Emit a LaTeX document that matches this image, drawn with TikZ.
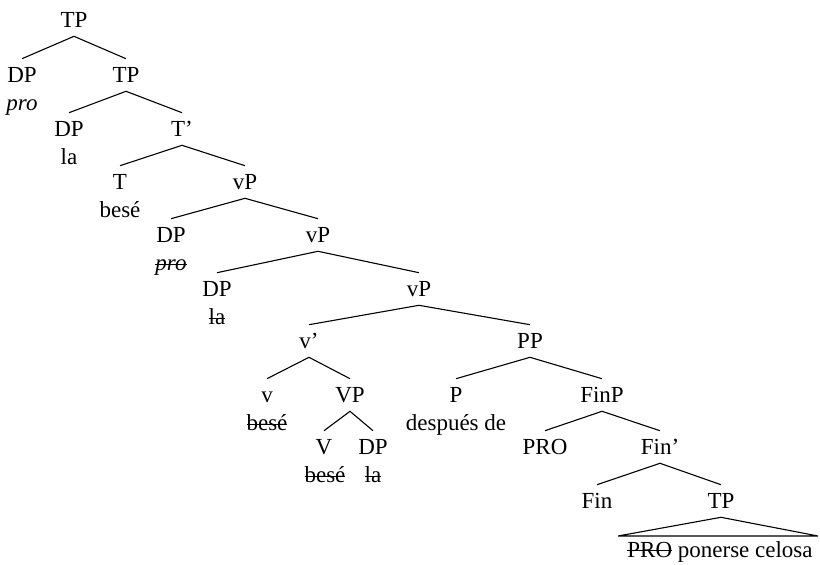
\documentclass[tikz,border=0pt]{standalone}
\usepackage{fontspec}
\setmainfont{Liberation Serif}
\newsavebox\strkbox
\newcommand{\mystrike}[1]{\sbox\strkbox{#1}\rlap{\usebox\strkbox}\rule[0.24em]{\wd\strkbox}{1pt}}
\begin{document}
\begin{tikzpicture}[x=1pt,y=-1pt,
  lbl/.style={font=\fontsize{23}{27}\selectfont, inner xsep=0pt, inner ysep=8.5pt, text height=15.2pt, text depth=0pt},
  wrd/.style={font=\fontsize{23}{27}\selectfont, inner sep=0pt, anchor=base},
  edge/.style={line width=1.1pt}]
\useasboundingbox (0,0) rectangle (820,565);
% labels
\node[lbl] (TP0) at (74,20) {TP};
\node[lbl] (DP1) at (22,75) {DP};
\node[lbl] (TP1) at (126,75) {TP};
\node[lbl] (DP2) at (69,129) {DP};
\node[lbl] (Tb2) at (182,129) {T’};
\node[lbl] (T3) at (120,182) {T};
\node[lbl] (vP3) at (245,182) {vP};
\node[lbl] (DP4) at (171,235) {DP};
\node[lbl] (vP4) at (318,235) {vP};
\node[lbl] (DP5) at (217,289) {DP};
\node[lbl] (vP5) at (419,289) {vP};
\node[lbl] (vb6) at (309,341) {v’};
\node[lbl] (PP6) at (530,341) {PP};
\node[lbl] (v7) at (267,395) {v};
\node[lbl] (VP7) at (350,395) {VP};
\node[lbl] (P7) at (456,395) {P};
\node[lbl] (FinP7) at (602,395) {FinP};
\node[lbl] (V8) at (324,447) {V};
\node[lbl] (DP8) at (373,447) {DP};
\node[lbl] (PRO8) at (545,447) {PRO};
\node[lbl] (Finb8) at (660,447) {Fin’};
\node[lbl] (Fin9) at (597,501) {Fin};
\node[lbl] (TP9) at (721,501) {TP};
% words
\node[wrd] (w1) at (22,110.6) {\itshape pro};
\node[wrd] (w2) at (69,164.6) {la};
\node[wrd] (w3) at (120,217.6) {besé};
\node[wrd] (w4) at (171,270.6) {\mystrike{\itshape pro}};
\node[wrd] (w5) at (217,324.6) {\mystrike{la}};
\node[wrd] (w7a) at (267,430.6) {\mystrike{besé}};
\node[wrd] (w7b) at (456,430.6) {después de};
\node[wrd] (w8a) at (325,482.6) {\mystrike{besé}};
\node[wrd] (w8b) at (373,482.6) {\mystrike{la}};
\node[wrd] (w9) at (720,557) {\mystrike{PRO} ponerse celosa};
% edges
\draw[edge] (DP1.north) -- (TP0.south) -- (TP1.north);
\draw[edge] (DP2.north) -- (TP1.south) -- (Tb2.north);
\draw[edge] (T3.north) -- (Tb2.south) -- (vP3.north);
\draw[edge] (DP4.north) -- (vP3.south) -- (vP4.north);
\draw[edge] (DP5.north) -- (vP4.south) -- (vP5.north);
\draw[edge] (vb6.north) -- (vP5.south) -- (PP6.north);
\draw[edge] (v7.north) -- (vb6.south) -- (VP7.north);
\draw[edge] (V8.north) -- (VP7.south) -- (DP8.north);
\draw[edge] (P7.north) -- (PP6.south) -- (FinP7.north);
\draw[edge] (PRO8.north) -- (FinP7.south) -- (Finb8.north);
\draw[edge] (Fin9.north) -- (Finb8.south) -- (TP9.north);
\coordinate (triL) at (618,536);
\coordinate (triR) at (818,536);
\draw[edge] (triL) -- (TP9.south) -- (triR) -- cycle;
\end{tikzpicture}
\end{document}
